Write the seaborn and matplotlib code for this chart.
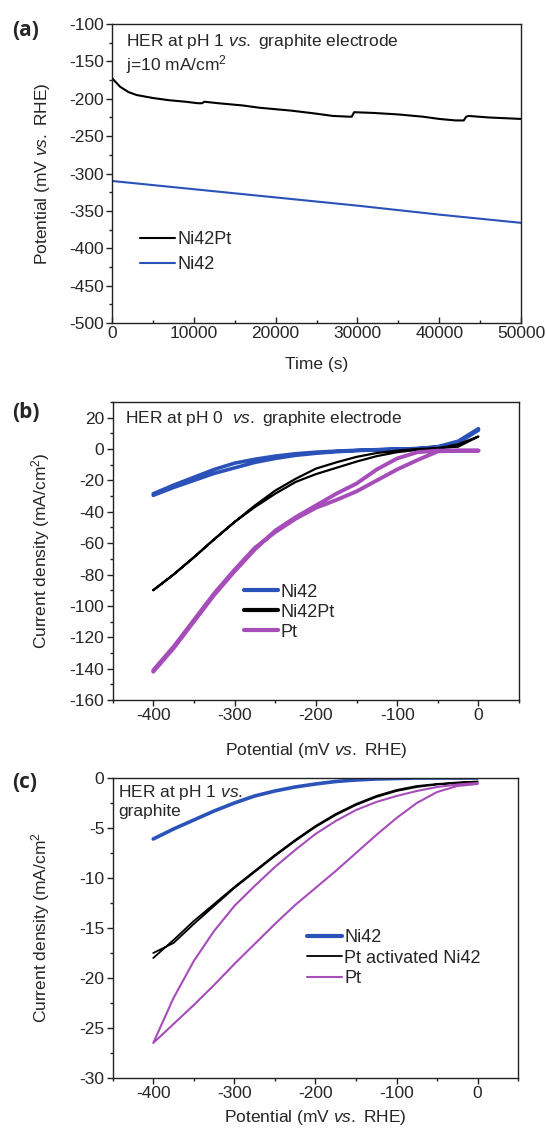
import numpy as np
import pandas as pd
import matplotlib
matplotlib.use('Agg')
import matplotlib.pyplot as plt
from matplotlib.ticker import MultipleLocator
import seaborn as sns

# ---- panel (a): chronopotentiometry ----
t_ni42pt = [0, 300, 1000, 2000, 3000, 5000, 7000, 9000, 10500, 11000, 11300, 13000, 16000,
            18000, 20000, 22000, 25000, 27000, 29000, 29300, 29600, 32000, 35000, 38000,
            40000, 42000, 43000, 43300, 43600, 46000, 48000, 50000]
v_ni42pt = [-172, -176, -184, -191, -195, -199, -202, -204, -206, -206, -204, -206, -209,
            -212, -214, -216, -220, -223, -224, -224, -218, -219, -221, -224,
            -227, -229, -229, -224, -223, -225, -226, -227]
t_ni42 = [0, 10000, 20000, 30000, 40000, 50000]
v_ni42 = [-310, -321, -332, -343, -355, -366]

# ---- panel (b): CV at pH 0 ----
e_up = [-400, -375, -350, -325, -300, -275, -250, -225, -200, -175, -150, -125, -100, -75, -50, -25, 0]
e_down = e_up[::-1]
b_ni42_up = [-28.5, -23, -18, -13, -9, -6.5, -4.5, -3, -2, -1.3, -0.8, -0.4, -0.1, 0.3, 1.2, 4, 12]
b_ni42_down = [13, 5, 1.5, 0.3, 0, -0.5, -1, -1.7, -2.7, -4, -6, -8.5, -12, -15.5, -20, -24.5, -29.5]
b_ni42pt_up = [-90, -80, -69, -57.5, -46.5, -36, -26.5, -19, -12.5, -8.5, -5, -2.5, -1, 0, 0.5, 1.5, 8]
b_ni42pt_down = [8, 3, 0.5, -0.5, -2, -4.5, -8, -12, -16, -21, -28.5, -37, -46.5, -57.5, -69, -80, -90]
b_pt_up = [-142, -127, -110, -93, -78, -64, -52, -43.5, -36, -28.5, -22, -13, -6, -2, -1, -1, -1]
b_pt_down = [-1, -1, -1.5, -7, -13, -20, -27, -32.5, -37.5, -44.5, -53, -63, -77, -92, -109, -126, -141]

# ---- panel (c): CV at pH 1 ----
c_ni42 = [-6.1, -5.1, -4.2, -3.3, -2.5, -1.8, -1.3, -0.9, -0.6, -0.35, -0.2, -0.1, -0.05, 0, 0, 0, 0]
c_act_up = [-18, -16.2, -14.3, -12.6, -10.9, -9.3, -7.7, -6.2, -4.8, -3.6, -2.6, -1.8, -1.2, -0.8, -0.6, -0.45, -0.35]
c_act_down = [-0.4, -0.5, -0.65, -0.9, -1.3, -1.9, -2.7, -3.7, -4.9, -6.3, -7.8, -9.4, -11.0, -12.8, -14.6, -16.5, -17.5]
c_pt_down = [-0.5, -0.65, -0.9, -1.3, -1.8, -2.4, -3.2, -4.3, -5.6, -7.2, -8.9, -10.8, -12.8, -15.3, -18.3, -22.0, -26.5]
c_pt_up = [-26.5, -24.6, -22.7, -20.7, -18.6, -16.6, -14.6, -12.7, -11.0, -9.3, -7.5, -5.7, -4.0, -2.5, -1.4, -0.8, -0.6]

BLUE = '#2b52b8'
PURPLE = '#a64dba'
BLACK = '#000000'

sns.set_style('ticks')
plt.rcParams['font.family'] = ['Liberation Sans', 'DejaVu Sans']
plt.rcParams['mathtext.fontset'] = 'custom'
plt.rcParams['mathtext.rm'] = 'Liberation Sans'
plt.rcParams['mathtext.it'] = 'Liberation Sans:italic'
plt.rcParams['axes.unicode_minus'] = False
plt.rcParams['axes.edgecolor'] = '#222222'
plt.rcParams['axes.linewidth'] = 1.0

FS = 12.5   # ticks, labels
FT = 12.5   # annotations
FL = 13     # legends


def loop(e_a, y_a, e_b, y_b):
    return pd.DataFrame({'E': list(e_a) + list(e_b), 'j': list(y_a) + list(y_b)})


def style_axes(ax, xdir='out', ydir='out'):
    ax.tick_params(axis='x', which='both', direction=xdir, labelsize=FS, color='#222222')
    ax.tick_params(axis='y', which='both', direction=ydir, labelsize=FS, color='#222222')
    ax.tick_params(which='major', length=4, width=1, pad=2)
    ax.tick_params(which='minor', length=2.5, width=1)
    for s in ax.spines.values():
        s.set_visible(True)


fig = plt.figure(figsize=(5.46, 11.29), dpi=100)

# (a)
ax = fig.add_axes([112 / 546, 1 - 323 / 1129, 409 / 546, 299 / 1129])
sns.lineplot(x=t_ni42pt, y=v_ni42pt, ax=ax, color=BLACK, lw=1.5, label='Ni42Pt', sort=False, estimator=None)
sns.lineplot(x=t_ni42, y=v_ni42, ax=ax, color=BLUE, lw=1.5, label='Ni42', sort=False, estimator=None)
ax.set_xlim(0, 50000)
ax.set_ylim(-500, -100)
ax.xaxis.set_major_locator(MultipleLocator(10000))
ax.xaxis.set_minor_locator(MultipleLocator(5000))
ax.yaxis.set_major_locator(MultipleLocator(50))
ax.yaxis.set_minor_locator(MultipleLocator(25))
style_axes(ax, xdir='in', ydir='out')
ax.set_xlabel('Time (s)', fontsize=FS, labelpad=12)
ax.set_ylabel('Potential (mV $\\it{vs.}$ RHE)', fontsize=FS)
ax.yaxis.set_label_coords(-0.147, 0.5)
ax.text(0.034, 0.94, 'HER at pH 1 $\\it{vs.}$ graphite electrode', transform=ax.transAxes,
        fontsize=FT, va='center')
ax.text(0.034, 0.863, 'j=10 mA/cm$^2$', transform=ax.transAxes, fontsize=FT, va='center')
ax.legend(loc='center left', bbox_to_anchor=(0.068, 0.236), frameon=False, fontsize=FL,
          handlelength=1.95, handletextpad=0.15, labelspacing=0.45, borderaxespad=0, borderpad=0)

# (b)
ax = fig.add_axes([112.6 / 546, 1 - 700 / 1129, 406.5 / 546, 298 / 1129])
sns.lineplot(data=loop(e_up, b_ni42_up, e_down, b_ni42_down), x='E', y='j', ax=ax, color=BLUE,
             lw=2.6, label='Ni42', sort=False, estimator=None)
sns.lineplot(data=loop(e_up, b_ni42pt_up, e_down, b_ni42pt_down), x='E', y='j', ax=ax, color=BLACK,
             lw=1.6, label='Ni42Pt', sort=False, estimator=None)
sns.lineplot(data=loop(e_up, b_pt_up, e_down, b_pt_down), x='E', y='j', ax=ax, color=PURPLE,
             lw=2.8, label='Pt', sort=False, estimator=None)
ax.set_xlim(-450, 50)
ax.set_ylim(-160, 30)
ax.xaxis.set_major_locator(MultipleLocator(100))
ax.xaxis.set_minor_locator(MultipleLocator(50))
ax.yaxis.set_major_locator(MultipleLocator(20))
ax.yaxis.set_minor_locator(MultipleLocator(10))
style_axes(ax)
ax.set_xlabel('Potential (mV $\\it{vs.}$ RHE)', fontsize=FS, labelpad=13)
ax.set_ylabel('Current density (mA/cm$^2$)', fontsize=FS)
ax.yaxis.set_label_coords(-0.149, 0.5)
ax.text(0.031, 0.943, 'HER at pH 0  $\\it{vs.}$ graphite electrode', transform=ax.transAxes,
        fontsize=FT, va='center')
leg = ax.legend(loc='center left', bbox_to_anchor=(0.323, 0.295), frameon=False, fontsize=FL,
                handlelength=1.9, handletextpad=0.15, labelspacing=0.17, borderaxespad=0, borderpad=0)
for h in leg.get_lines():
    h.set_linewidth(3)

# (c)
ax = fig.add_axes([112.7 / 546, 1 - 1078 / 1129, 405.5 / 546, 300 / 1129])
sns.lineplot(x=e_up, y=c_ni42, ax=ax, color=BLUE, lw=2.6, label='Ni42', sort=False, estimator=None)
sns.lineplot(data=loop(e_up, c_act_up, e_down, c_act_down), x='E', y='j', ax=ax, color=BLACK,
             lw=1.3, label='Pt activated Ni42', sort=False, estimator=None)
sns.lineplot(data=loop(e_down, c_pt_down, e_up, c_pt_up), x='E', y='j', ax=ax, color=PURPLE,
             lw=1.5, label='Pt', sort=False, estimator=None)
ax.set_xlim(-450, 50)
ax.set_ylim(-30, 0)
ax.xaxis.set_major_locator(MultipleLocator(100))
ax.xaxis.set_minor_locator(MultipleLocator(50))
ax.yaxis.set_major_locator(MultipleLocator(5))
ax.yaxis.set_minor_locator(MultipleLocator(2.5))
style_axes(ax)
ax.set_xlabel('Potential (mV $\\it{vs.}$ RHE)', fontsize=FS, labelpad=5)
ax.set_ylabel('Current density (mA/cm$^2$', fontsize=FS)
ax.yaxis.set_label_coords(-0.149, 0.5)
ax.text(0.013, 0.953, 'HER at pH 1 $\\it{vs.}$', transform=ax.transAxes, fontsize=FT, va='center')
ax.text(0.013, 0.887, 'graphite', transform=ax.transAxes, fontsize=FT, va='center')
leg = ax.legend(loc='center left', bbox_to_anchor=(0.48, 0.40), frameon=False, fontsize=FL,
                handlelength=1.9, handletextpad=0.15, labelspacing=0.2, borderaxespad=0, borderpad=0)
leg.get_lines()[0].set_linewidth(3)

# panel letters
for lab, yy in [('(a)', 1129 - 30), ('(b)', 1129 - 413), ('(c)', 1129 - 782)]:
    fig.text(12 / 546, yy / 1129, lab, fontsize=15, fontweight='bold', va='center',
             family=['Open Sans', 'DejaVu Sans'])

fig.savefig('out.png', dpi=100)
